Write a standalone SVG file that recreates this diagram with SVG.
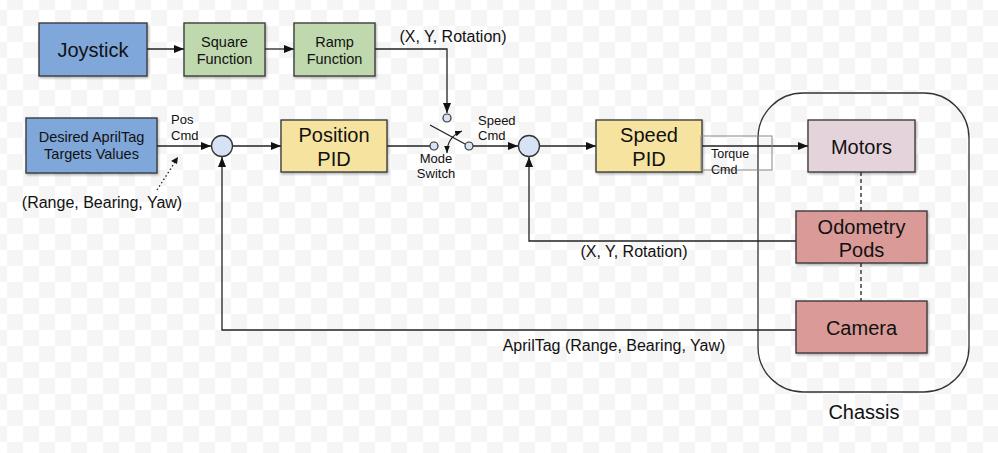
<svg xmlns="http://www.w3.org/2000/svg" width="998" height="453" viewBox="0 0 998 453">
<defs>
<pattern id="chk" patternUnits="userSpaceOnUse" x="7" y="10" width="32" height="32">
<rect width="32" height="32" fill="#ffffff"/>
<rect x="16" y="0" width="16" height="16" fill="#f5f5f5"/>
<rect x="0" y="16" width="16" height="16" fill="#f5f5f5"/>
</pattern>
<filter id="sh" x="-10%" y="-10%" width="130%" height="140%">
<feDropShadow dx="1" dy="1.5" stdDeviation="1" flood-color="#000" flood-opacity="0.3"/>
</filter>
<marker id="ah" viewBox="0 0 10 10" refX="10" refY="5" markerWidth="10" markerHeight="10" markerUnits="userSpaceOnUse" orient="auto">
<path d="M0,1 L10,5 L0,9 Z" fill="#111"/>
</marker>
<marker id="ahs" viewBox="0 0 10 10" refX="10" refY="5" markerWidth="7" markerHeight="7" markerUnits="userSpaceOnUse" orient="auto-start-reverse">
<path d="M0,1 L10,5 L0,9 Z" fill="#111"/>
</marker>
</defs>
<style>
.box{stroke:#333;stroke-width:1.3;filter:url(#sh)}
.blue{fill:#7fa7d9}
.green{fill:#bfd8ad}
.yellow{fill:#f7e3a0}
.pink{fill:#e5d3dc}
.red{fill:#d99a98}
.circ{fill:#d7e3f4;stroke:#333;stroke-width:1.3}
.dot{fill:#d7e3f4;stroke:#333;stroke-width:1.2}
.ln{fill:none;stroke:#222;stroke-width:1.3}
.arr{fill:none;stroke:#222;stroke-width:1.3;marker-end:url(#ah)}
text{font-family:"Liberation Sans",Arial,sans-serif;fill:#111;text-anchor:middle}
.t20{font-size:20px}
.t145{font-size:14.5px}
.t16{font-size:16px}
.t13{font-size:13px}
.t12{font-size:12.5px}
.l{text-anchor:start}
</style>
<rect width="998" height="453" fill="url(#chk)"/>

<g id="chassis">
<rect x="758" y="93" width="211" height="299" rx="45" ry="45" fill="none" stroke="#333" stroke-width="1.3"/>
<text class="t20" x="864" y="419">Chassis</text>
</g>

<g id="connectors">
<line class="arr" x1="147" y1="49" x2="184" y2="49"/>
<line class="arr" x1="265" y1="49" x2="294" y2="49"/>
<polyline class="arr" points="375,49 447,49 447,113"/>
<line class="arr" x1="157" y1="146" x2="211" y2="146"/>
<line class="ln" x1="157" y1="190" x2="175" y2="162" stroke-dasharray="1.5,2.5"/>
<path d="M178,157 L171,161 L177,164 Z" fill="#111"/>
<line class="arr" x1="232" y1="146" x2="281" y2="146"/>
<line class="ln" x1="387" y1="146" x2="430" y2="146"/>
<line class="ln" x1="430" y1="125" x2="465" y2="144"/>
<path d="M447,153 Q447,137 462,131" fill="none" stroke="#222" stroke-width="1.2" marker-start="url(#ahs)" marker-end="url(#ahs)"/>
<line class="arr" x1="473" y1="146" x2="518" y2="146"/>
<line class="arr" x1="539" y1="146" x2="596" y2="146"/>
<line class="arr" x1="702" y1="146" x2="808" y2="146"/>
<line class="ln" x1="861" y1="172" x2="861" y2="211" stroke-dasharray="4,3"/>
<line class="ln" x1="861" y1="263" x2="861" y2="301" stroke-dasharray="4,3"/>
<polyline class="arr" points="796,241 529,241 529,157"/>
<polyline class="arr" points="796,330 222,330 222,157"/>
</g>

<g id="joystick">
<rect class="box blue" x="39" y="23" width="108" height="53"/>
<text class="t20" x="93" y="57">Joystick</text>
</g>
<g id="square-function">
<rect class="box green" x="184" y="23" width="81" height="53"/>
<text class="t145" x="224.5" y="47">Square</text>
<text class="t145" x="224.5" y="64">Function</text>
</g>
<g id="ramp-function">
<rect class="box green" x="294" y="23" width="81" height="53"/>
<text class="t145" x="334.5" y="47">Ramp</text>
<text class="t145" x="334.5" y="64">Function</text>
</g>
<text class="t16" x="453" y="42">(X, Y, Rotation)</text>

<g id="desired-apriltag">
<rect class="box blue" x="26" y="118" width="131" height="55"/>
<text class="t145" x="91.5" y="142">Desired AprilTag</text>
<text class="t145" x="91.5" y="159">Targets Values</text>
</g>
<text class="t13 l" x="171" y="124">Pos</text>
<text class="t13 l" x="171" y="140">Cmd</text>
<text class="t16" x="102" y="208">(Range, Bearing, Yaw)</text>

<g id="sum1">
<circle class="circ" cx="222" cy="146" r="10.5"/>
</g>

<g id="position-pid">
<rect class="box yellow" x="281" y="120" width="106" height="52"/>
<text class="t20" x="334" y="142">Position</text>
<text class="t20" x="334" y="166">PID</text>
</g>

<g id="mode-switch">
<circle class="dot" cx="434" cy="146" r="4"/>
<circle class="dot" cx="447" cy="118" r="4"/>
<circle class="dot" cx="469" cy="146" r="4"/>
<text class="t13" x="436" y="163">Mode</text>
<text class="t13" x="436" y="178">Switch</text>
</g>
<text class="t13 l" x="478" y="125">Speed</text>
<text class="t13 l" x="478" y="140">Cmd</text>

<g id="sum2">
<circle class="circ" cx="529" cy="146" r="10.5"/>
</g>

<g id="speed-pid">
<rect class="box yellow" x="596" y="120" width="106" height="52"/>
<text class="t20" x="649" y="142">Speed</text>
<text class="t20" x="649" y="166">PID</text>
</g>

<g id="torque-cmd">
<rect x="701" y="136" width="71" height="34" fill="none" stroke="#888" stroke-width="1"/>
<text class="t12 l" x="711" y="158">Torque</text>
<text class="t12 l" x="711" y="174">Cmd</text>
</g>

<g id="motors">
<rect class="box pink" x="808" y="120" width="107" height="52"/>
<text class="t20" x="861.5" y="154">Motors</text>
</g>
<g id="odometry-pods">
<rect class="box red" x="796" y="211" width="131" height="52"/>
<text class="t20" x="861.5" y="234">Odometry</text>
<text class="t20" x="861.5" y="257">Pods</text>
</g>
<g id="camera">
<rect class="box red" x="796" y="301" width="131" height="52"/>
<text class="t20" x="861.5" y="335">Camera</text>
</g>

<text class="t16" x="634" y="257">(X, Y, Rotation)</text>
<text class="t16" x="614" y="351">AprilTag (Range, Bearing, Yaw)</text>
</svg>
